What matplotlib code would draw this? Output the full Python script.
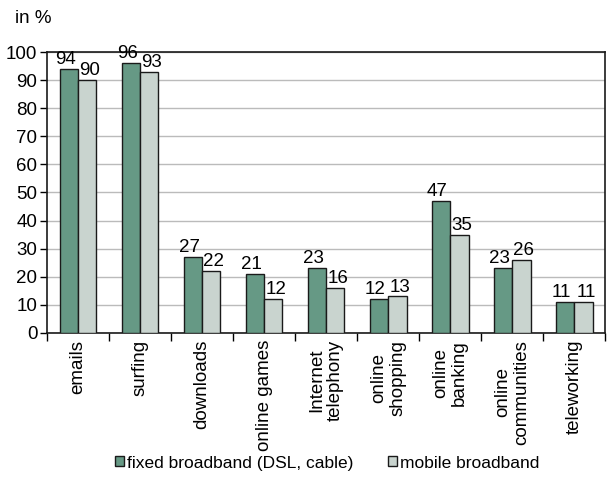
import matplotlib
matplotlib.use('Agg')
import matplotlib.pyplot as plt
import numpy as np

categories = ['emails', 'surfing', 'downloads', 'online games', 'Internet\ntelephony',
              'online\nshopping', 'online\nbanking', 'online\ncommunities', 'teleworking']
fixed = [94, 96, 27, 21, 23, 12, 47, 23, 11]
mobile = [90, 93, 22, 12, 16, 13, 35, 26, 11]
series_names = ['fixed broadband (DSL, cable)', 'mobile broadband']

plt.rcParams['font.family'] = ['Liberation Sans', 'DejaVu Sans']
fs = 13.5

fig = plt.figure(figsize=(6.12, 4.91), dpi=100)
ax = fig.add_axes([0.077, 0.322, 0.912, 0.572])

x = np.arange(len(categories))
w = 0.295
b1 = ax.bar(x - w / 2, fixed, w, color='#669985', edgecolor='#1a1a1a', linewidth=1, zorder=3,
            label=series_names[0])
b2 = ax.bar(x + w / 2, mobile, w, color='#c9d4cf', edgecolor='#1a1a1a', linewidth=1, zorder=3,
            label=series_names[1])

for i in range(len(categories)):
    ax.text(x[i] - w / 2 - 0.06, fixed[i] + 0.3, str(fixed[i]), ha='center', va='bottom', fontsize=fs)
    ax.text(x[i] + w / 2 + 0.04, mobile[i] + 0.3, str(mobile[i]), ha='center', va='bottom', fontsize=fs)

ax.set_xlim(-0.5, len(categories) - 0.5)
ax.set_ylim(0, 100)
ax.set_yticks(range(0, 101, 10))
ax.tick_params(axis='y', labelsize=fs, length=5, width=1, direction='out', pad=2)
ax.yaxis.grid(True, color='#bbbbbb', linewidth=1, zorder=0)

ax.set_xticks(np.arange(-0.5, len(categories), 1.0))
ax.set_xticklabels([])
ax.set_xticks(x, minor=True)
ax.set_xticklabels(categories, minor=True, rotation=90, fontsize=fs, ha='center', va='top',
                   multialignment='center', linespacing=1.15)
ax.tick_params(axis='x', which='major', length=6, width=1, direction='out')
ax.tick_params(axis='x', which='minor', length=0, pad=5)

for s in ax.spines.values():
    s.set_linewidth(1.2)
    s.set_color('#1a1a1a')

fig.text(0.025, 0.962, 'in %', fontsize=fs, va='center')

fig.legend(handles=[b1, b2], loc='center', bbox_to_anchor=(0.535, 0.057), ncol=2, frameon=False,
           fontsize=12.5, handlelength=0.5, handleheight=0.5, handletextpad=0.2, columnspacing=2.0)

fig.savefig('out.png', dpi=100)
